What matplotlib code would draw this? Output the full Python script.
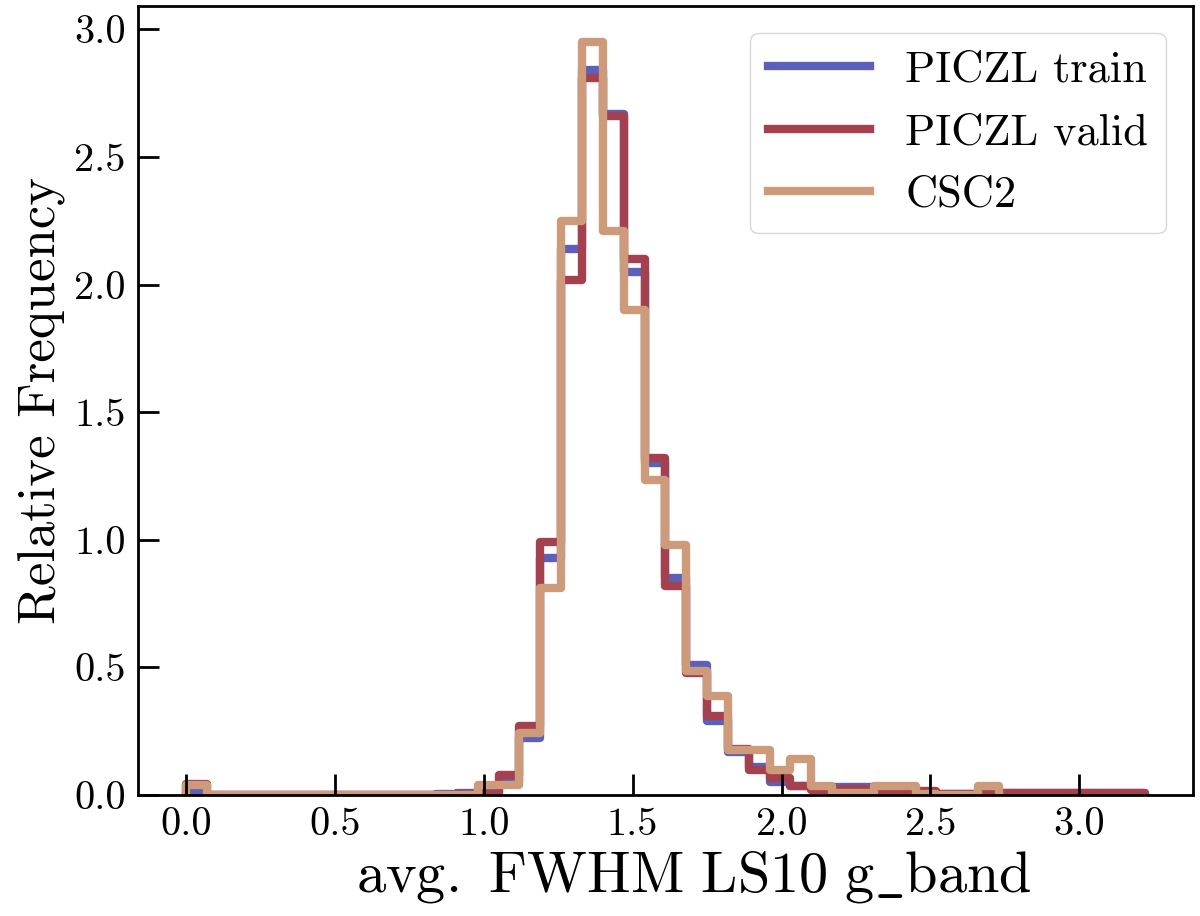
import numpy as np
import matplotlib
matplotlib.use('Agg')
import matplotlib.pyplot as plt

plt.rcParams['font.family'] = 'serif'
plt.rcParams['font.serif'] = ['cmr10']
plt.rcParams['mathtext.fontset'] = 'cm'
plt.rcParams['axes.unicode_minus'] = False

# histogram bins: width 0.07 starting at 0
bin_width = 0.07
n_bins = 46

# relative frequency per bin
piczl_train = [0.015, 0, 0, 0, 0, 0, 0, 0, 0, 0,
               0, 0, 0.004, 0.008, 0.012, 0.05, 0.225, 0.93, 2.14, 2.84,
               2.67, 2.05, 1.30, 0.85, 0.51, 0.29, 0.17, 0.11, 0.05, 0.035,
               0.025, 0.03, 0.03, 0.012, 0.012, 0.01, 0.005, 0.005, 0.008, 0.008,
               0.008, 0.008, 0.008, 0.008, 0.008, 0.008]
piczl_valid = [0.045, 0, 0, 0, 0, 0, 0, 0, 0, 0,
               0, 0, 0, 0.003, 0.005, 0.08, 0.27, 0.99, 2.02, 2.81,
               2.66, 2.10, 1.32, 0.82, 0.48, 0.31, 0.18, 0.10, 0.065, 0.035,
               0.02, 0.025, 0.025, 0.01, 0.01, 0.015, 0.005, 0.003, 0.008, 0.008,
               0.008, 0.008, 0.008, 0.008, 0.008, 0.008]
csc2 = [0.04, 0, 0, 0, 0, 0, 0, 0, 0, 0,
        0, 0, 0, 0, 0.04, 0.04, 0.245, 0.81, 2.25, 2.95,
        2.21, 1.90, 1.235, 0.98, 0.485, 0.39, 0.175, 0.175, 0.10, 0.14,
        0.035, 0.01, 0.01, 0.035, 0.035, 0.005, 0, 0, 0.035]

labels = ['PICZL train', 'PICZL valid', 'CSC2']
colors = ['#5c60bb', '#a5404f', '#cd9a7a']
tick_vals = [0.0, 0.5, 1.0, 1.5, 2.0, 2.5, 3.0]
tick_labels = ['0.0', '0.5', '1.0', '1.5', '2.0', '2.5', '3.0']

edges = np.round(np.arange(n_bins + 1) * bin_width, 2)

fig = plt.figure(figsize=(12, 9.16), dpi=100)
ax = fig.add_axes([0.115, 0.132, 0.879, 0.861])

for vals, lab, col in zip([piczl_train, piczl_valid, csc2], labels, colors):
    e = edges[:len(vals) + 1]
    ax.stairs(vals, e, color=col, lw=6, label=lab, joinstyle='round')

ax.set_xlim(-0.161, 3.381)
ax.set_ylim(0, 3.09)
ax.set_xticks(tick_vals)
ax.set_yticks(tick_vals)
ax.set_xticklabels(tick_labels)
ax.set_yticklabels(tick_labels)
ax.tick_params(direction='in', length=15, width=2, labelsize=29, pad=9)
for s in ax.spines.values():
    s.set_linewidth(2)

ax.set_xlabel(r'$\mathrm{avg.\ FWHM\ LS10\ g\_band}$', fontsize=42)
ax.xaxis.set_label_coords(0.527, -0.068)
ax.set_ylabel('Relative Frequency', fontsize=38, labelpad=6)

ax.legend(loc='upper right', fontsize=32, handlelength=2.3, borderaxespad=0.6)

fig.savefig('out.png', dpi=100)
